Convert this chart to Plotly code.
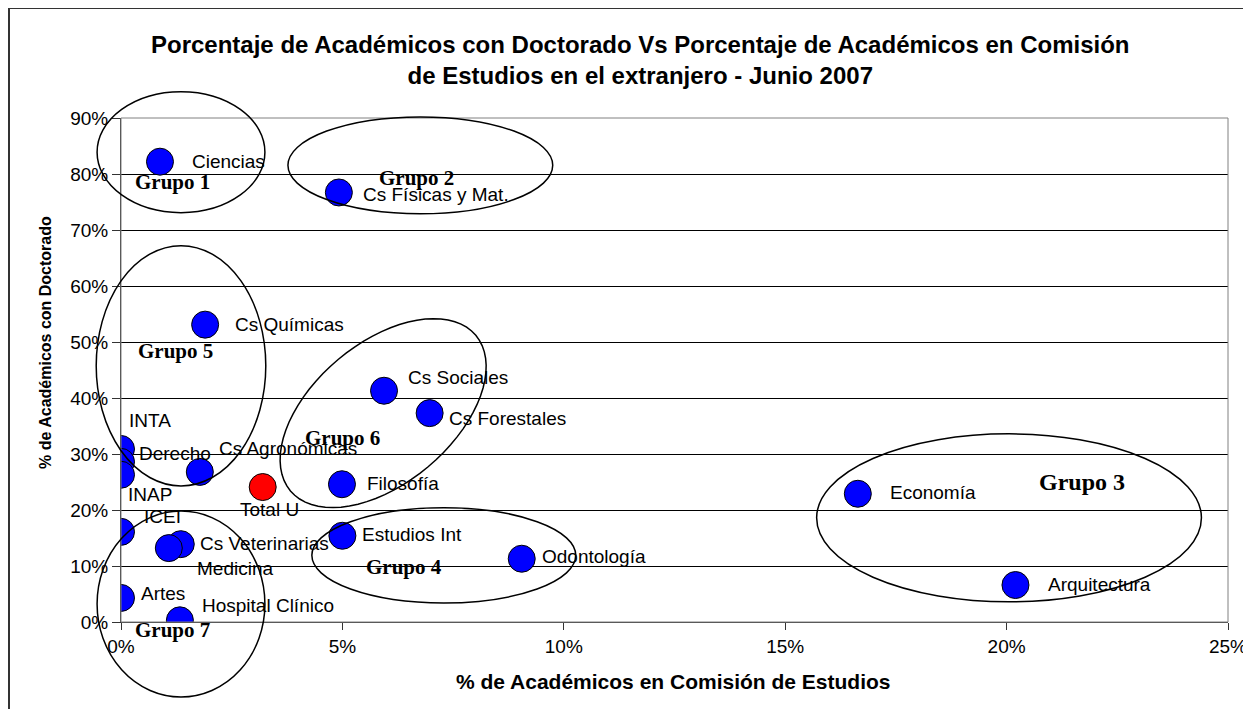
import math
import plotly.graph_objects as go

# ---------------- data ----------------
names = ["Ciencias", "Cs Físicas y Mat.", "Cs Químicas", "Cs Sociales", "Cs Forestales",
         "INTA", "Derecho", "INAP", "Cs Agronómicas", "Total U", "Filosofía",
         "Estudios Int", "Odontología", "ICEI", "Cs Veterinarias", "Medicina",
         "Artes", "Hospital Clínico", "Economía", "Arquitectura"]
comision = [0.0088, 0.0492, 0.0190, 0.0594, 0.0697,
            0.0, 0.0, 0.0, 0.0178, 0.0320, 0.0499,
            0.0500, 0.0905, 0.0, 0.0135, 0.0108,
            0.0, 0.0133, 0.1664, 0.2020]
doctorado = [0.822, 0.767, 0.531, 0.413, 0.373,
             0.309, 0.286, 0.263, 0.268, 0.241, 0.246,
             0.154, 0.113, 0.161, 0.139, 0.132,
             0.043, 0.003, 0.229, 0.066]
x_ticks = [0, 0.05, 0.10, 0.15, 0.20, 0.25]
x_tick_labels = ["0%", "5%", "10%", "15%", "20%", "25%"]
y_ticks = [0, 0.1, 0.2, 0.3, 0.4, 0.5, 0.6, 0.7, 0.8, 0.9]
y_tick_labels = ["0%", "10%", "20%", "30%", "40%", "50%", "60%", "70%", "80%", "90%"]
groups = ["Grupo 1", "Grupo 2", "Grupo 3", "Grupo 4", "Grupo 5", "Grupo 6", "Grupo 7"]
title_text = ("<b>Porcentaje de Académicos con Doctorado Vs Porcentaje de Académicos en Comisión"
              "<br>de Estudios en el extranjero - Junio 2007</b>")
x_title = "<b>% de Académicos en Comisión de Estudios</b>"
y_title = "<b>% de Académicos con Doctorado</b>"

# ---------------- layout constants ----------------
OFF = 8  # page body margin
W, H = 1251, 709
ML, MR, MT, MB = 113, 31, 110, 95
PW, PH = W - ML - MR, H - MT - MB
XR = (0, 0.25)
YR = (0, 0.9)

def px2paper(px, py):
    fx, fy = px - OFF, py - OFF
    return (fx - ML) / PW, (H - MB - fy) / PH

def d2paper(x, y):
    return (x - XR[0]) / (XR[1] - XR[0]), (y - YR[0]) / (YR[1] - YR[0])

# label pixel offsets (dx, dy-up)
label_offsets = {
    "Ciencias": (30, 0), "Cs Físicas y Mat.": (22, -2), "Cs Químicas": (28, 0),
    "Cs Sociales": (22, 13), "Cs Forestales": (17, -5), "INTA": (6, 28),
    "Derecho": (16, 8), "INAP": (5, -20), "Cs Agronómicas": (17, 23),
    "Total U": (-25, -22), "Filosofía": (23, 1), "Estudios Int": (18, 1),
    "Odontología": (18, 2), "ICEI": (21, 15), "Cs Veterinarias": (17, 1),
    "Medicina": (26, -20), "Artes": (18, 4), "Hospital Clínico": (20, 15),
    "Economía": (30, 1), "Arquitectura": (31, 1),
}

# group ellipses (data-unit bounding boxes) and label positions
group_boxes = {
    "Grupo 1": (-0.0054, 0.0325, 0.731, 0.947),
    "Grupo 2": (0.0377, 0.0975, 0.729, 0.902),
    "Grupo 3": (0.1571, 0.2440, 0.036, 0.336),
    "Grupo 4": (0.0431, 0.1027, 0.034, 0.204),
    "Grupo 5": (-0.0056, 0.0327, 0.243, 0.672),
    "Grupo 7": (-0.0054, 0.0325, -0.134, 0.198),
}
group_label_pos = {
    "Grupo 1": (0.0117, 0.786), "Grupo 2": (0.0668, 0.793), "Grupo 3": (0.217, 0.250),
    "Grupo 4": (0.0639, 0.098), "Grupo 5": (0.0122, 0.484), "Grupo 6": (0.050, 0.329),
    "Grupo 7": (0.0117, -0.014),
}
group_label_size = {"Grupo 3": 24}

colors = ["#FF0000" if n == "Total U" else "#0000FF" for n in names]

fig = go.Figure()
fig.add_trace(go.Scatter(
    x=comision, y=doctorado, mode="markers",
    marker=dict(size=27, color=colors, line=dict(color="black", width=1)),
    cliponaxis=True, showlegend=False, hoverinfo="text", text=names,
))

LABEL_FONT = "Liberation Sans, Arial"
annotations = []
for n, x, y in zip(names, comision, doctorado):
    dx, dy = label_offsets[n]
    annotations.append(dict(x=x, y=y, xref="x", yref="y", text=n, showarrow=False,
                            xanchor="left", yanchor="middle", xshift=dx, yshift=dy,
                            font=dict(family=LABEL_FONT, size=19, color="black")))
for g in groups:
    gx, gy = group_label_pos[g]
    px_, py_ = d2paper(gx, gy)
    annotations.append(dict(x=px_, y=py_, xref="paper", yref="paper", text="<b>%s</b>" % g,
                            showarrow=False, xanchor="center", yanchor="middle",
                            font=dict(family="Liberation Serif, Times New Roman",
                                      size=group_label_size.get(g, 21), color="black")))

# title
tx, ty = px2paper(640, 60)
annotations.append(dict(x=tx, y=ty, xref="paper", yref="paper", showarrow=False,
                        text=title_text,
                        font=dict(family=LABEL_FONT, size=24, color="black"),
                        xanchor="center", yanchor="middle", align="center"))
# axis titles
ax_, ay_ = px2paper(673, 681)
annotations.append(dict(x=ax_, y=ay_, xref="paper", yref="paper", showarrow=False,
                        text=x_title, font=dict(family=LABEL_FONT, size=21, color="black"),
                        xanchor="center", yanchor="middle"))
bx_, by_ = px2paper(45, 343)
annotations.append(dict(x=bx_, y=by_, xref="paper", yref="paper", showarrow=False,
                        text=y_title, textangle=-90,
                        font=dict(family=LABEL_FONT, size=16, color="black"),
                        xanchor="center", yanchor="middle"))

shapes = []
# outer chart border
ox0, oy0 = px2paper(9, 8)
ox1, oy1 = px2paper(1246, 720)
shapes.append(dict(type="rect", xref="paper", yref="paper", x0=ox0, y0=oy1, x1=ox1, y1=oy0,
                   line=dict(color="#333333", width=2), layer="below"))
# plot area border (gray)
shapes.append(dict(type="rect", xref="paper", yref="paper", x0=0, y0=0, x1=1, y1=1,
                   line=dict(color="#808080", width=1), layer="above"))

for g, (x0, x1, y0, y1) in group_boxes.items():
    a0, b0 = d2paper(x0, y0)
    a1, b1 = d2paper(x1, y1)
    shapes.append(dict(type="circle", xref="paper", yref="paper", x0=a0, y0=b0, x1=a1, y1=b1,
                       line=dict(color="black", width=1.5), layer="above"))

# Grupo 6 rotated ellipse (center in data units, axes in px)
cx6, cy6 = 0.0592, 0.373
a6, b6, th6 = 121, 70, math.radians(40)
pcx, pcy = d2paper(cx6, cy6)
pts = []
for k in range(73):
    t = 2 * math.pi * k / 72
    ox = a6 * math.cos(t) * math.cos(th6) - b6 * math.sin(t) * math.sin(th6)
    oy = a6 * math.cos(t) * math.sin(th6) + b6 * math.sin(t) * math.cos(th6)
    pts.append((pcx + ox / PW, pcy + oy / PH))
path = "M " + " L ".join("%.5f,%.5f" % p for p in pts) + " Z"
shapes.append(dict(type="path", xref="paper", yref="paper", path=path,
                   line=dict(color="black", width=1.5), layer="above"))

fig.update_layout(
    width=W, height=H,
    margin=dict(l=ML, r=MR, t=MT, b=MB),
    paper_bgcolor="white", plot_bgcolor="white",
    font=dict(family=LABEL_FONT, size=19, color="black"),
    xaxis=dict(range=list(XR), tickvals=x_ticks, ticktext=x_tick_labels, showgrid=False,
               zeroline=False, showline=True, linecolor="#333333", linewidth=1,
               ticks="outside", ticklen=7, tickcolor="#333333",
               tickfont=dict(size=19, color="black")),
    yaxis=dict(range=list(YR), tickvals=y_ticks, ticktext=y_tick_labels, showgrid=True,
               gridcolor="black", gridwidth=1, zeroline=False, showline=True,
               linecolor="#333333", linewidth=1, ticks="outside", ticklen=8,
               tickcolor="#333333", tickfont=dict(size=19, color="black")),
    annotations=annotations, shapes=shapes,
)

fig.write_html("out.html")
